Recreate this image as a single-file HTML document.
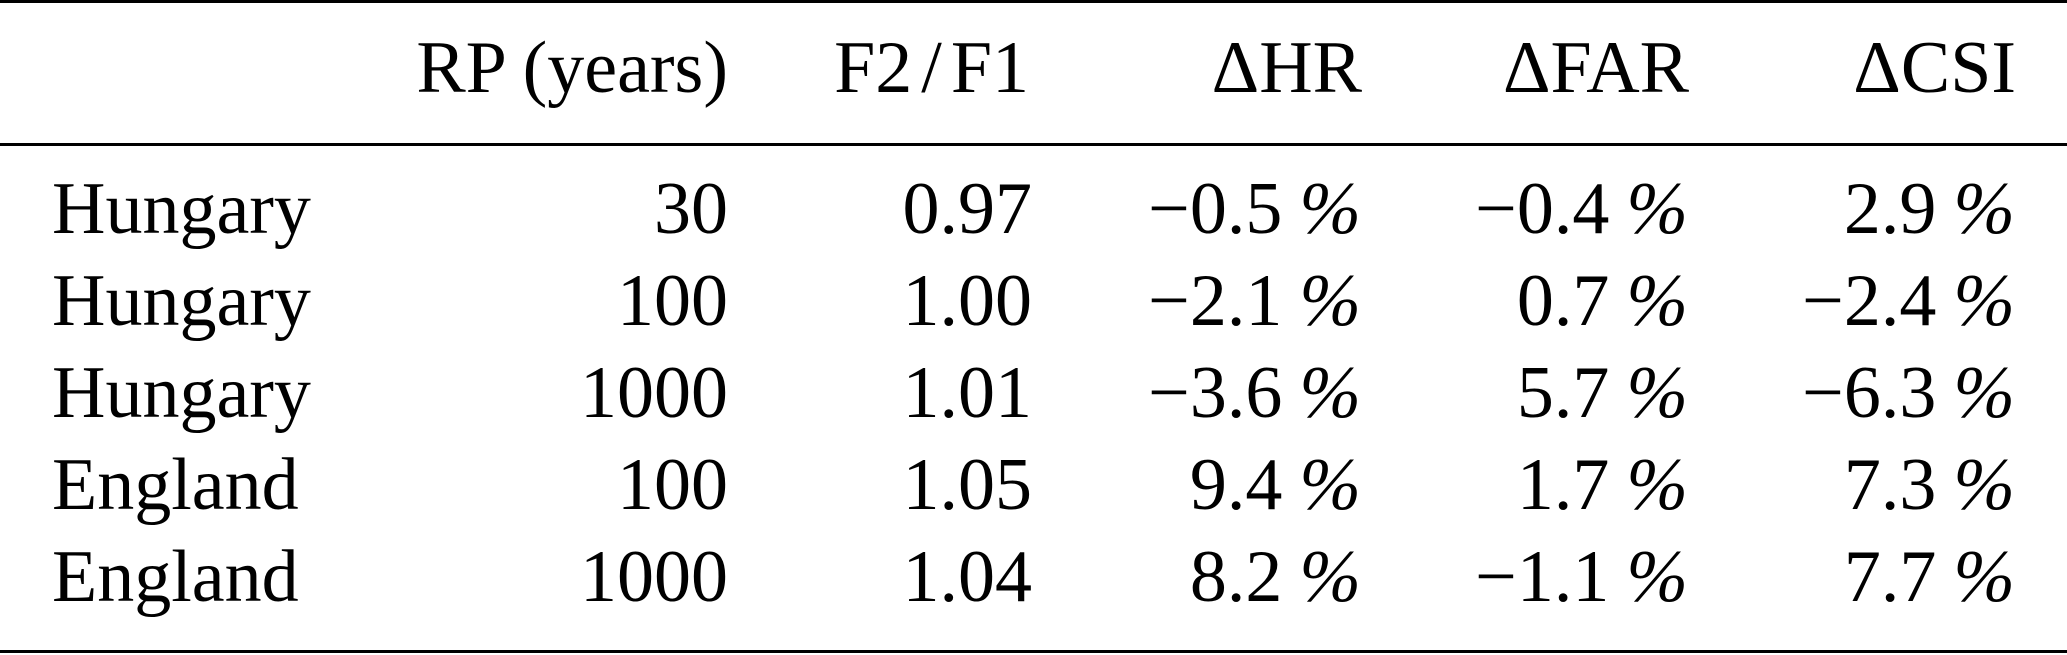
<!DOCTYPE html>
<html>
<head>
<meta charset="utf-8">
<style>
html,body{margin:0;padding:0;background:#fff;}
svg{display:block;}
text{font-family:"Liberation Serif","Times New Roman",serif;font-size:74px;fill:#000;}
.p{font-style:italic;}
</style>
</head>
<body>
<svg width="2067" height="655" viewBox="0 0 2067 655" xmlns="http://www.w3.org/2000/svg">
<rect x="0" y="0" width="2067" height="655" fill="#fff"/>
<rect x="0" y="0" width="2067" height="3" fill="#000"/>
<rect x="0" y="143" width="2067" height="3" fill="#000"/>
<rect x="0" y="650" width="2067" height="3" fill="#000"/>

<!-- header -->
<text x="728" y="92" text-anchor="end">RP (years)</text>
<text x="1029" y="92" text-anchor="end">F2<tspan dx="9">/</tspan><tspan dx="9">F1</tspan></text>
<text x="1362" y="92" text-anchor="end">ΔHR</text>
<text x="1689" y="92" text-anchor="end">ΔFAR</text>
<text x="2016" y="92" text-anchor="end">ΔCSI</text>

<!-- rows -->
<g>
<text x="52" y="233">Hungary</text>
<text x="728" y="233" text-anchor="end">30</text>
<text x="1032" y="233" text-anchor="end">0.97</text>
<text x="1361" y="233" text-anchor="end">−0.5<tspan class="p" dx="17">%</tspan></text>
<text x="1688" y="233" text-anchor="end">−0.4<tspan class="p" dx="17">%</tspan></text>
<text x="2015" y="233" text-anchor="end">2.9<tspan class="p" dx="17">%</tspan></text>
</g>
<g>
<text x="52" y="325">Hungary</text>
<text x="728" y="325" text-anchor="end">100</text>
<text x="1032" y="325" text-anchor="end">1.00</text>
<text x="1361" y="325" text-anchor="end">−2.1<tspan class="p" dx="17">%</tspan></text>
<text x="1688" y="325" text-anchor="end">0.7<tspan class="p" dx="17">%</tspan></text>
<text x="2015" y="325" text-anchor="end">−2.4<tspan class="p" dx="17">%</tspan></text>
</g>
<g>
<text x="52" y="417">Hungary</text>
<text x="728" y="417" text-anchor="end">1000</text>
<text x="1032" y="417" text-anchor="end">1.01</text>
<text x="1361" y="417" text-anchor="end">−3.6<tspan class="p" dx="17">%</tspan></text>
<text x="1688" y="417" text-anchor="end">5.7<tspan class="p" dx="17">%</tspan></text>
<text x="2015" y="417" text-anchor="end">−6.3<tspan class="p" dx="17">%</tspan></text>
</g>
<g>
<text x="52" y="509">England</text>
<text x="728" y="509" text-anchor="end">100</text>
<text x="1032" y="509" text-anchor="end">1.05</text>
<text x="1361" y="509" text-anchor="end">9.4<tspan class="p" dx="17">%</tspan></text>
<text x="1688" y="509" text-anchor="end">1.7<tspan class="p" dx="17">%</tspan></text>
<text x="2015" y="509" text-anchor="end">7.3<tspan class="p" dx="17">%</tspan></text>
</g>
<g>
<text x="52" y="601">England</text>
<text x="728" y="601" text-anchor="end">1000</text>
<text x="1032" y="601" text-anchor="end">1.04</text>
<text x="1361" y="601" text-anchor="end">8.2<tspan class="p" dx="17">%</tspan></text>
<text x="1688" y="601" text-anchor="end">−1.1<tspan class="p" dx="17">%</tspan></text>
<text x="2015" y="601" text-anchor="end">7.7<tspan class="p" dx="17">%</tspan></text>
</g>
</svg>
</body>
</html>
